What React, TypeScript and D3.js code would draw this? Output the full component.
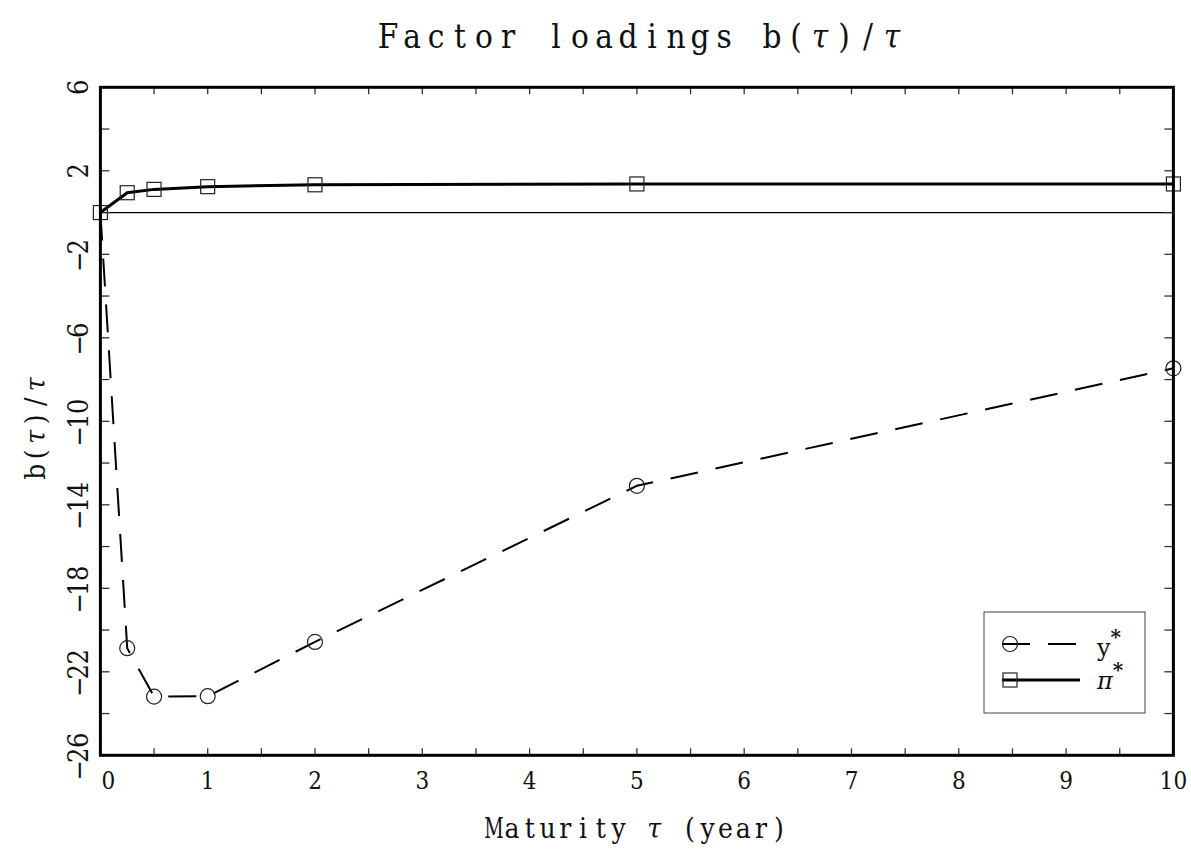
import React from "react";
import * as d3 from "d3";

const W = 1191;
const H = 849;

// Data
const maturities = [0, 0.25, 0.5, 1, 2, 5, 10];
const piStar = [0, 0.95, 1.11, 1.24, 1.33, 1.37, 1.37];
const yStar = [0, -20.87, -23.19, -23.17, -20.57, -13.09, -7.46];
const yStarMarked = [false, true, true, true, true, true, true];
const piStarMarked = [true, true, true, true, true, true, true];

const xTickLabels = [0, 1, 2, 3, 4, 5, 6, 7, 8, 9, 10];
const xMinorTicks = d3.range(0, 10.001, 0.5);
const yTickLabels = [6, 2, -2, -6, -10, -14, -18, -22, -26];
const yMinorTicks = d3.range(-26, 6.001, 2);

const titleText = "Factor loadings b(τ)/τ";
const xTitle = "Maturity τ (year)";
const yTitle = "b(τ)/τ";

const FONT = "'DejaVu Serif', 'Liberation Serif', serif";
const ITALIC_CHARS = "τπ";
const WIDE_CHARS = "MWmw";

function MonoText({ text, x, y, pitch, size, rotate = 0, anchor = "middle", fill = "#111" }: any) {
  const chars = Array.from(text as string);
  const total = chars.length * pitch;
  const start = anchor === "middle" ? -total / 2 : anchor === "start" ? 0 : -total;
  return (
    <g transform={`translate(${x},${y}) rotate(${rotate})`}>
      {chars.map((c, i) =>
        c === " " ? null : (
          <text
            key={i}
            transform={`translate(${start + (i + 0.5) * pitch},0) scale(${WIDE_CHARS.includes(c) ? 0.68 : 0.9},1)`}
            x={0}
            y={0}
            fontSize={size}
            textAnchor="middle"
            fontFamily={FONT}
            fontStyle={ITALIC_CHARS.includes(c) ? "italic" : "normal"}
            fill={fill}
          >
            {c}
          </text>
        )
      )}
    </g>
  );
}

export default function App() {
  const x = d3.scaleLinear().domain([0, 10]).range([100.4, 1173.4]);
  const y = d3.scaleLinear().domain([-26, 6]).range([755.3, 87.3]);
  const [x0, x1] = x.range();
  const [yb, yt] = y.range();

  const line = d3
    .line<number>()
    .x((_, i) => x(maturities[i]))
    .y((d) => y(d));

  return (
    <svg width={W} height={H} style={{ position: "absolute", left: 0, top: 0, background: "#fff" }}>
      <rect x={0} y={0} width={W} height={H} fill="#fff" />
      {/* Title */}
      <MonoText text={titleText} x={640} y={48} pitch={24} size={33} />

      {/* zero line */}
      <line x1={x0} x2={x1} y1={y(0)} y2={y(0)} stroke="#000" strokeWidth={1.3} />

      {/* series lines */}
      <path d={line(yStar) || ""} fill="none" stroke="#000" strokeWidth={2} strokeDasharray="28 18" />
      <path d={line(piStar) || ""} fill="none" stroke="#000" strokeWidth={3} />

      {/* markers */}
      {yStar.map((v, i) =>
        yStarMarked[i] ? (
          <circle key={"c" + i} cx={x(maturities[i])} cy={y(v)} r={7.5} fill="none" stroke="#222" strokeWidth={1.2} />
        ) : null
      )}
      {piStar.map((v, i) =>
        piStarMarked[i] ? (
          <rect key={"s" + i} x={x(maturities[i]) - 7} y={y(v) - 7} width={14} height={14} fill="none" stroke="#222" strokeWidth={1.2} />
        ) : null
      )}

      {/* ticks */}
      {yMinorTicks.map((t) => (
        <g key={"yt" + t}>
          <line x1={x0} x2={x0 + 9} y1={y(t)} y2={y(t)} stroke="#333" strokeWidth={1.3} />
          <line x1={x1} x2={x1 - 9} y1={y(t)} y2={y(t)} stroke="#333" strokeWidth={1.3} />
        </g>
      ))}
      {xMinorTicks.map((t) => (
        <g key={"xt" + t}>
          <line x1={x(t)} x2={x(t)} y1={yb} y2={yb - 7} stroke="#333" strokeWidth={1.3} />
          <line x1={x(t)} x2={x(t)} y1={yt} y2={yt + 7} stroke="#333" strokeWidth={1.3} />
        </g>
      ))}

      {/* frame */}
      <rect x={x0} y={yt} width={x1 - x0} height={yb - yt} fill="none" stroke="#000" strokeWidth={3} />

      {/* tick labels */}
      {xTickLabels.map((t) => (
        <MonoText key={"xl" + t} text={String(t)} x={x(t) + (t === 0 ? 8 : 0)} y={789} pitch={14} size={24} />
      ))}
      {yTickLabels.map((t) => (
        <MonoText
          key={"yl" + t}
          text={t < 0 ? "−" + Math.abs(t) : String(t)}
          x={88}
          y={y(t)}
          pitch={15}
          size={27}
          rotate={-90}
        />
      ))}

      {/* axis titles */}
      <MonoText text={xTitle} x={636.5} y={838} pitch={17.8} size={28} />
      <MonoText text={yTitle} x={45} y={428} pitch={17.5} size={28} rotate={-90} />

      {/* legend */}
      <rect x={984} y={612} width={161} height={101} fill="#fff" stroke="#444" strokeWidth={1} />
      <line x1={1002} x2={1078} y1={644} y2={644} stroke="#000" strokeWidth={2} strokeDasharray="28 18" />
      <circle cx={1010} cy={644} r={7.5} fill="none" stroke="#222" strokeWidth={1.2} />
      <text x={1097} y={656} fontSize={24} fontFamily={FONT} fill="#111">
        y
        <tspan dx={0} dy={-12} fontSize={20} fontWeight="bold">*</tspan>
      </text>
      <line x1={1002} x2={1080} y1={680} y2={680} stroke="#000" strokeWidth={3} />
      <rect x={1003} y={673} width={14} height={14} fill="none" stroke="#222" strokeWidth={1.2} />
      <text x={1097} y={689} fontSize={24} fontFamily={FONT} fill="#111">
        <tspan fontStyle="italic">π</tspan>
        <tspan dx={0} dy={-12} fontSize={20} fontWeight="bold">*</tspan>
      </text>
    </svg>
  );
}
